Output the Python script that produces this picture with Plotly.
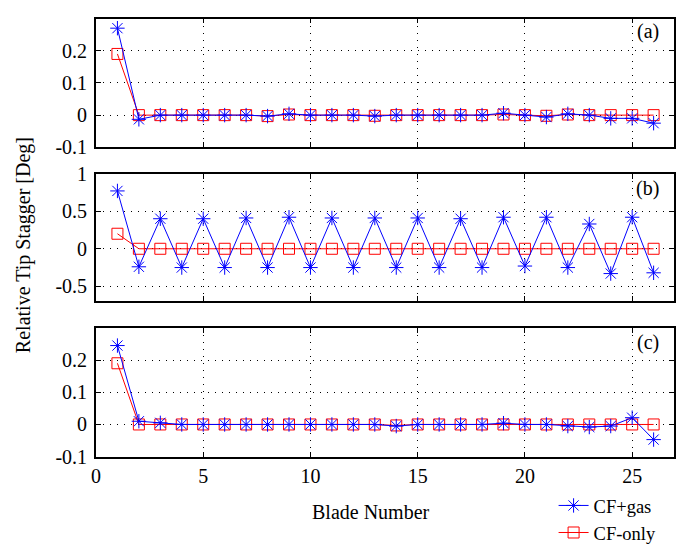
import plotly.graph_objects as go

blades = list(range(1, 27))

# Panel (a)
a_gas = [0.27, -0.013, 0, 0, 0, 0, 0, -0.003, 0.004, 0, 0, 0, -0.003,
         0, 0, 0, 0, 0, 0.006, 0, -0.006, 0.004, 0, -0.01, -0.01, -0.025]
a_cf = [0.19, 0, 0, 0, 0, 0, 0, -0.003, 0.002, 0, 0, 0, -0.002,
        0, 0, 0, 0, 0, 0.002, 0, -0.002, 0.002, 0, 0, 0, 0]

# Panel (b)
b_gas = [0.77, -0.24, 0.40, -0.25, 0.40, -0.25, 0.41, -0.25, 0.42, -0.25, 0.41, -0.25, 0.41,
         -0.25, 0.41, -0.25, 0.40, -0.25, 0.42, -0.23, 0.42, -0.25, 0.33, -0.33, 0.42, -0.32]
b_cf = [0.20] + [0] * 25

# Panel (c)
c_gas = [0.245, 0.01, 0.005, 0, 0, 0, 0, 0, 0, 0, 0, 0, 0,
         -0.005, 0, 0, 0, 0, 0.004, 0, 0, -0.005, -0.008, -0.005, 0.021, -0.047]
c_cf = [0.19, 0, 0, 0, 0, 0, 0, 0, 0, 0, 0, 0, 0,
        -0.003, 0, 0, 0, 0, 0, 0, 0, 0, 0, 0, 0, 0]

panels = [
    dict(gas=a_gas, cf=a_cf, rng=[-0.1, 0.3], ticks=[-0.1, 0, 0.1, 0.2],
         text=["-0.1", "0", "0.1", "0.2"], dom=[0.7373, 0.9855], tag="(a)", tag_y=0.960),
    dict(gas=b_gas, cf=b_cf, rng=[-0.69, 1.0], ticks=[-0.5, 0, 0.5, 1],
         text=["-0.5", "0", "0.5", "1"], dom=[0.442, 0.6866], tag="(b)", tag_y=0.6576),
    dict(gas=c_gas, cf=c_cf, rng=[-0.1, 0.3], ticks=[-0.1, 0, 0.1, 0.2],
         text=["-0.1", "0", "0.1", "0.2"], dom=[0.1413, 0.3895], tag="(c)", tag_y=0.3605),
]

x_ticks = [0, 5, 10, 15, 20, 25]
font_family = "Liberation Serif, Times New Roman, serif"
BLUE = "#0000FF"
RED = "#FF0000"
FS = 20

fig = go.Figure()
layout = dict(
    width=676, height=552,
    margin=dict(l=0, r=0, t=0, b=0),
    paper_bgcolor="white", plot_bgcolor="white",
    font=dict(family=font_family, size=FS, color="black"),
    showlegend=True,
    annotations=[],
)

for i, p in enumerate(panels):
    n = "" if i == 0 else str(i + 1)
    xa, ya = "x" + n, "y" + n
    first = i == 0
    fig.add_trace(go.Scatter(
        x=blades, y=p["cf"], xaxis=xa, yaxis=ya, mode="lines+markers",
        name="CF-only", legendgroup="cf", showlegend=first, legendrank=2,
        line=dict(color=RED, width=1),
        marker=dict(symbol="square-open", size=11, color=RED, line=dict(width=1)),
    ))
    fig.add_trace(go.Scatter(
        x=blades, y=p["gas"], xaxis=xa, yaxis=ya, mode="lines+markers",
        name="CF+gas", legendgroup="gas", showlegend=first, legendrank=1,
        line=dict(color=BLUE, width=1),
        marker=dict(symbol="asterisk-open", size=12, color=BLUE, line=dict(width=1, color=BLUE)),
    ))
    common = dict(showline=True, linecolor="black", linewidth=1.8, mirror="ticks",
                  ticks="inside", ticklen=5, tickcolor="black", zeroline=False,
                  showgrid=True, gridcolor="black", gridwidth=1, griddash="1px,6px",
                  tickfont=dict(family=font_family, size=FS))
    layout["xaxis" + n] = dict(
        domain=[0.136, 1.0], range=[0, 26.95], anchor=ya,
        tickvals=x_ticks, ticktext=[str(t) for t in x_ticks],
        showticklabels=(i == 2), **common)
    layout["yaxis" + n] = dict(
        domain=p["dom"], range=p["rng"], anchor=xa,
        tickvals=p["ticks"], ticktext=p["text"], ticklabelstandoff=3, **common)
    layout["annotations"].append(dict(
        text=p["tag"], xref="paper", yref="paper", x=0.981, y=p["tag_y"],
        xanchor="right", yanchor="middle", showarrow=False,
        font=dict(family=font_family, size=FS)))

layout["annotations"].append(dict(
    text="Relative Tip Stagger [Deg]", xref="paper", yref="paper",
    x=0.027, y=0.549, textangle=-90, showarrow=False,
    xanchor="center", yanchor="middle", font=dict(family=font_family, size=FS)))
layout["annotations"].append(dict(
    text="Blade Number", xref="paper", yref="paper",
    x=0.547, y=0.034, showarrow=False, xanchor="center", yanchor="middle",
    font=dict(family=font_family, size=FS)))

layout["legend"] = dict(
    x=0.82, y=0.083, xanchor="left", yanchor="top",
    bgcolor="rgba(0,0,0,0)", borderwidth=0, tracegroupgap=0,
    font=dict(family=font_family, size=18.5), itemwidth=30)

fig.update_layout(**layout)
fig.write_html("out.html")
